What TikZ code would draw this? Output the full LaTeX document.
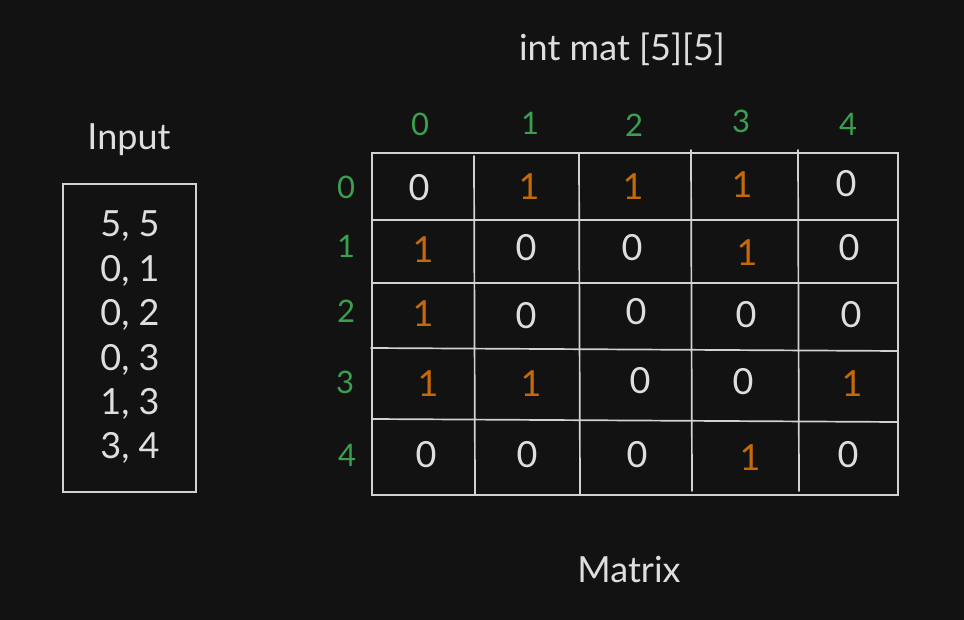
\documentclass[tikz,border=0pt]{standalone}
\usepackage{fontspec}
\setmainfont{Lato}
\definecolor{bg}{HTML}{121212}
\definecolor{fg}{HTML}{DEDEDE}
\definecolor{ln}{HTML}{D2D2D2}
\definecolor{org}{HTML}{C46A0A}
\definecolor{grn}{HTML}{3AA04F}
\tikzset{
  txt/.style={text=fg, font=\fontsize{36}{42}\selectfont, inner sep=0pt, anchor=center},
  zero/.style={text=fg, font=\fontsize{36}{42}\selectfont, inner sep=0pt, anchor=center},
  one/.style={text=org, font=\fontsize{36}{42}\selectfont, inner sep=0pt, anchor=center},
  idx/.style={text=grn, font=\fontsize{31}{36}\selectfont, inner sep=0pt, anchor=center},
  gridline/.style={draw=ln, line width=1.7pt, line cap=round},
}
\begin{document}
\begin{tikzpicture}[x=1pt,y=-1pt]
\fill[bg] (0,0) rectangle (964,620);
\useasboundingbox (0,0) rectangle (964,620);

% titles
\node[txt] (title) at (622,49) {int mat [5][5]};
\node[txt] (input) at (129,140) {Input};
\node[txt] (matrix) at (629,570) {Matrix};

% input box
\draw[gridline] (63,184) rectangle (196,492);
\node[txt] (i1) at (130,226) {5, 5};
\node[txt] (i2) at (130,271) {0, 1};
\node[txt] (i3) at (130,315) {0, 2};
\node[txt] (i4) at (130,360) {0, 3};
\node[txt] (i5) at (130,404) {1, 3};
\node[txt] (i6) at (130,448) {3, 4};

% matrix grid
\draw[gridline] (372,153) rectangle (898,495);
\draw[gridline] (474,156) -- (475,495);
\draw[gridline] (579,153) -- (580,494);
\draw[gridline] (691,150) -- (692,491);
\draw[gridline] (798,150) -- (799,491);
\draw[gridline] (372,220) -- (898,220);
\draw[gridline] (372,283) -- (898,283);
\draw[gridline] (371,348) -- (898,351);
\draw[gridline] (372,419) -- (897,422);

% column indices
\node[idx] (c0) at (420,124) {0};
\node[idx] (c1) at (530,123) {1};
\node[idx] (c2) at (634,125) {2};
\node[idx] (c3) at (741,121) {3};
\node[idx] (c4) at (848,124) {4};
% row indices
\node[idx] (r0) at (346,187) {0};
\node[idx] (r1) at (346,246) {1};
\node[idx] (r2) at (346,311) {2};
\node[idx] (r3) at (345,382) {3};
\node[idx] (r4) at (347,455) {4};

% cells
\node[zero] (m00) at (419,188) {0};
\node[one]  (m01) at (529,187) {1};
\node[one]  (m02) at (633,187) {1};
\node[one]  (m03) at (742,185) {1};
\node[zero] (m04) at (846,184) {0};

\node[one]  (m10) at (423,250) {1};
\node[zero] (m11) at (526,248) {0};
\node[zero] (m12) at (632,248) {0};
\node[one]  (m13) at (747,253) {1};
\node[zero] (m14) at (849,248) {0};

\node[one]  (m20) at (423,314) {1};
\node[zero] (m21) at (526,316) {0};
\node[zero] (m22) at (636,312) {0};
\node[zero] (m23) at (746,315) {0};
\node[zero] (m24) at (851,315) {0};

\node[one]  (m30) at (428,384) {1};
\node[one]  (m31) at (531,384) {1};
\node[zero] (m32) at (640,381) {0};
\node[zero] (m33) at (743,382) {0};
\node[one]  (m34) at (852,384) {1};

\node[zero] (m40) at (426,455) {0};
\node[zero] (m41) at (527,455) {0};
\node[zero] (m42) at (637,455) {0};
\node[one]  (m43) at (750,458) {1};
\node[zero] (m44) at (848,455) {0};
\end{tikzpicture}
\end{document}
